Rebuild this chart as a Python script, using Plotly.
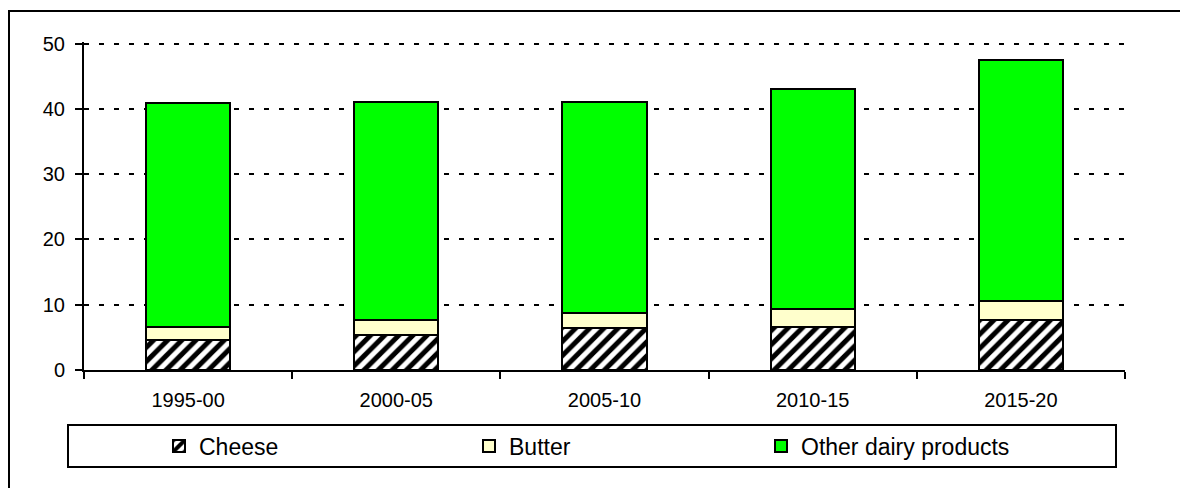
import plotly.graph_objects as go

periods = ["1995-00", "2000-05", "2005-10", "2010-15", "2015-20"]
cheese = [4.6, 5.4, 6.4, 6.6, 7.6]
butter = [2.0, 2.3, 2.3, 2.8, 2.9]
other = [34.3, 33.3, 32.3, 33.6, 37.0]

W, H = 1180, 488
L, R, T, B = 84, 55, 42, 118
pw, ph = W - L - R, H - T - B

def px_x(x):
    return (x - L) / pw

def px_y(y):
    return (H - B - y) / ph

FONT = "Liberation Sans, Arial, sans-serif"

fig = go.Figure()
fig.add_trace(go.Bar(
    x=periods, y=cheese, name="Cheese", legend="legend",
    marker=dict(color="white", line=dict(color="black", width=2),
                pattern=dict(shape="/", fgcolor="black", bgcolor="white", size=10,
                             solidity=0.5, fgopacity=1)),
))
fig.add_trace(go.Bar(
    x=periods, y=butter, name="Butter", legend="legend2",
    marker=dict(color="#FFFFCC", line=dict(color="black", width=2)),
))
fig.add_trace(go.Bar(
    x=periods, y=other, name="Other dairy products", legend="legend3",
    marker=dict(color="#00FF00", line=dict(color="black", width=2)),
))

def leg(xpx):
    return dict(xref="container", yref="container", x=xpx / W, y=1 - 446 / H,
                xanchor="left", yanchor="middle", bgcolor="rgba(0,0,0,0)",
                borderwidth=0, font=dict(family=FONT, size=23, color="black"))

fig.update_layout(
    width=W, height=H,
    margin=dict(l=L, r=R, t=T, b=B, autoexpand=False),
    barmode="stack", bargap=0.596,
    plot_bgcolor="white", paper_bgcolor="white",
    showlegend=True,
    legend=leg(159), legend2=leg(469), legend3=leg(761),
    font=dict(family=FONT, size=20, color="black"),
    xaxis=dict(
        type="category", showline=True, linecolor="black", linewidth=2,
        ticks="outside", ticklen=7, tickwidth=2, tickcolor="black",
        tickson="boundaries", showgrid=False, mirror=False, tickangle=0,
        automargin=False, ticklabelstandoff=11,
        tickfont=dict(family=FONT, size=20, color="black"),
    ),
    yaxis=dict(
        range=[0, 50.25], tickvals=[0, 10, 20, 30, 40, 50],
        showline=True, linecolor="black", linewidth=2,
        ticks="outside", ticklen=7, tickwidth=2, tickcolor="black",
        showgrid=True, gridcolor="black", gridwidth=2, griddash="5px,10px",
        zeroline=False, automargin=False, ticklabelstandoff=6,
        tickfont=dict(family=FONT, size=20, color="black"),
    ),
    shapes=[
        dict(type="rect", xref="paper", yref="paper",
             x0=px_x(9), x1=px_x(1190), y0=px_y(498), y1=px_y(11),
             line=dict(color="black", width=2), fillcolor="rgba(0,0,0,0)", layer="below"),
        dict(type="rect", xref="paper", yref="paper",
             x0=px_x(68), x1=px_x(1116), y0=px_y(467), y1=px_y(425),
             line=dict(color="black", width=2), fillcolor="rgba(0,0,0,0)", layer="below"),
    ],
)

fig.write_html("out.html", config={"displayModeBar": False},
               post_script="document.body.style.margin='0';")
